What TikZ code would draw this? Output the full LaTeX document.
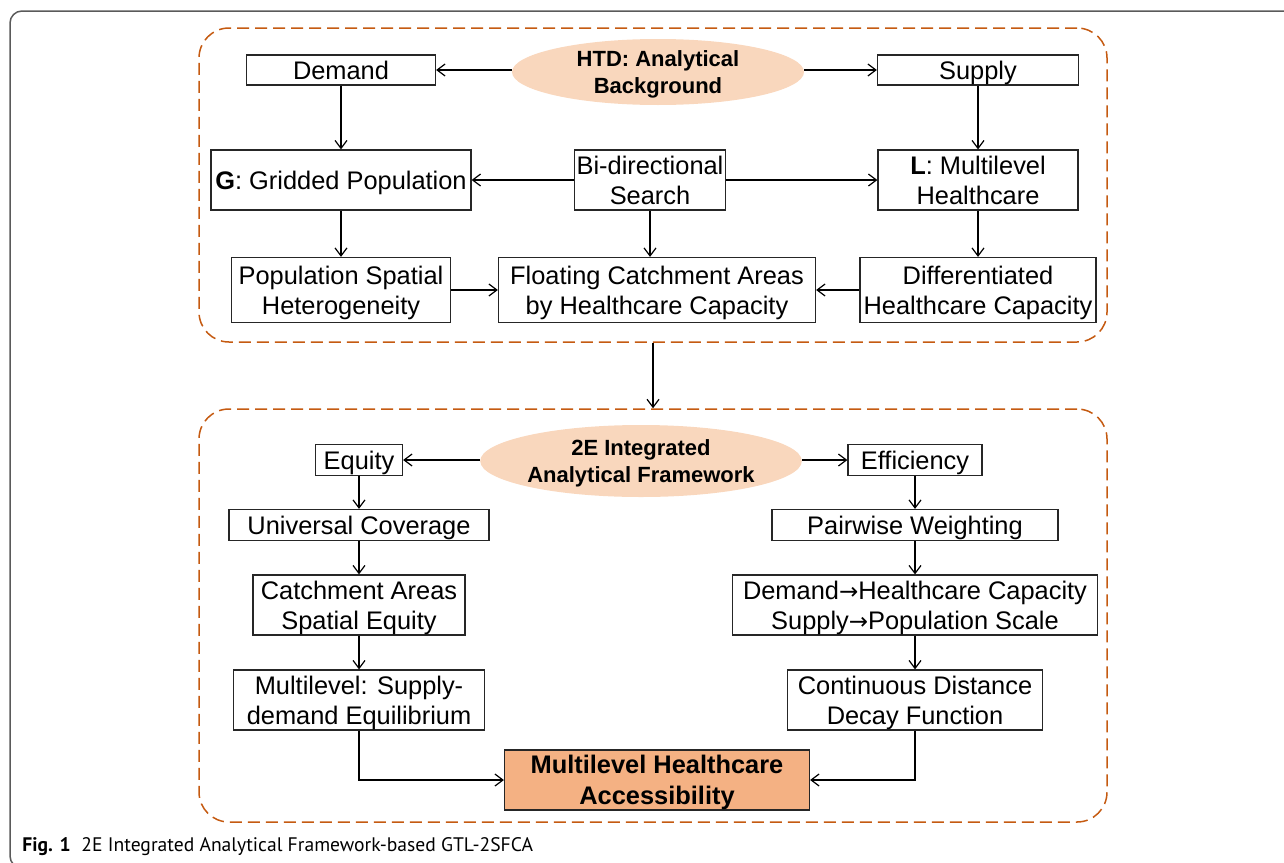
\documentclass[tikz,border=0pt]{standalone}
\usepackage{fontspec}
\setmainfont{Liberation Sans}
\newfontfamily\capfont{PT Sans}
\newfontfamily\symfont{DejaVu Sans}
\usepackage{tikz}
\usetikzlibrary{arrows.meta,shapes.geometric}
\definecolor{gtorange}{HTML}{C55A11}
\definecolor{gtpeach}{HTML}{F9D7BD}
\definecolor{gtsalmon}{HTML}{F4B183}
\definecolor{gtgray}{HTML}{5A5A5A}
\newcommand{\gtto}{{\symfont\fontsize{11.5}{15}\selectfont →}}
\tikzset{
  gtbox/.style={draw=black!85, line width=0.6pt, fill=white, align=center,
    inner sep=1pt, text depth=0pt, font=\fontsize{12.7}{15}\selectfont},
  gtoval/.style={ellipse, fill=gtpeach, align=center, inner xsep=0pt,
    inner ysep=-1pt, text depth=0pt, font=\bfseries\fontsize{11}{13.5}\selectfont},
  gtresult/.style={gtbox, fill=gtsalmon, font=\bfseries\fontsize{12.7}{15.5}\selectfont},
  gtgroup/.style={draw=gtorange, line width=0.75pt, dash pattern=on 6pt off 3pt,
    rounded corners=15pt},
  gtarrow/.style={-{Straight Barb[length=4pt,width=6pt]}, line width=0.6pt, draw=black}
}

\begin{document}
\begin{tikzpicture}[x=0.5pt, y=-0.5pt]
  \useasboundingbox (0,0) rectangle (1284,862);
  \clip (0,0) rectangle (1284,862);
  \draw[gtgray, line width=0.75pt, rounded corners=6pt] (10,11) rectangle (1330,868);
  \node[gtgroup, minimum width=454pt, minimum height=157pt] (htdgroup) at (653,185) {};
  \node[gtgroup, minimum width=454pt, minimum height=206.5pt] (eegroup) at (653,615.5) {};

  \node[gtoval, minimum width=146pt, minimum height=33pt] (htd) at (658,72) {HTD: Analytical\\Background};
  \node[gtbox, minimum width=94.5pt, minimum height=15pt] (demand) at (341,70) {Demand};
  \node[gtbox, minimum width=100.5pt, minimum height=15pt] (supply) at (978,70) {Supply};
  \node[gtbox, minimum width=130pt, minimum height=30pt] (grid) at (341,180) {\textbf{G}: Gridded Population};
  \node[gtbox, minimum width=75.5pt, minimum height=30pt] (bidir) at (650,180) {Bi-directional\\Search};
  \node[gtbox, minimum width=100pt, minimum height=30pt] (mlh) at (978,180) {\textbf{L}: Multilevel\\Healthcare};
  \node[gtbox, minimum width=109.5pt, minimum height=32.5pt] (psh) at (341,290) {Population Spatial\\Heterogeneity};
  \node[gtbox, minimum width=158.5pt, minimum height=32.5pt] (fca) at (657,290) {Floating Catchment Areas\\by Healthcare Capacity};
  \node[gtbox, minimum width=118pt, minimum height=32.5pt] (dhc) at (978,290) {Differentiated\\Healthcare Capacity};

  \draw[gtarrow] (demand.east -| htd.west) -- (demand.east);
  \draw[gtarrow] (supply.west -| htd.east) -- (supply.west);
  \draw[gtarrow] (demand.south) -- (grid.north);
  \draw[gtarrow] (supply.south) -- (mlh.north);
  \draw[gtarrow] (bidir.west) -- (grid.east);
  \draw[gtarrow] (bidir.east) -- (mlh.west);
  \draw[gtarrow] (grid.south) -- (psh.north);
  \draw[gtarrow] (bidir.south) -- (bidir.south |- fca.north);
  \draw[gtarrow] (mlh.south) -- (dhc.north);
  \draw[gtarrow] (psh.east) -- (fca.west);
  \draw[gtarrow] (dhc.west) -- (fca.east);
  \draw[gtarrow] (htdgroup.south) -- (eegroup.north);

  \node[gtoval, minimum width=136.5pt, minimum height=36pt] (twoe) at (641,461) {2E Integrated\\Analytical Framework};
  \node[gtbox, minimum width=43.5pt, minimum height=15.5pt] (equity) at (359,460) {Equity};
  \node[gtbox, minimum width=67pt, minimum height=15.5pt] (effic) at (915,460) {Efficiency};
  \node[gtbox, minimum width=130pt, minimum height=15.5pt] (ucov) at (359,525) {Universal Coverage};
  \node[gtbox, minimum width=143pt, minimum height=15.5pt] (pairw) at (915,525) {Pairwise Weighting};
  \node[gtbox, minimum width=106pt, minimum height=30pt] (case) at (359,605) {Catchment Areas\\Spatial Equity};
  \node[gtbox, minimum width=182.5pt, minimum height=30pt] (dsmatch) at (915,605) {Demand\gtto Healthcare Capacity\\Supply\gtto Population Scale};
  \node[gtbox, minimum width=125.5pt, minimum height=30pt] (mseq) at (359,700) {Multilevel: Supply-\\demand Equilibrium};
  \node[gtbox, minimum width=127.5pt, minimum height=30pt] (cddf) at (915,700) {Continuous Distance\\Decay Function};
  \node[gtresult, minimum width=152.5pt, minimum height=30pt] (mha) at (657,780) {Multilevel Healthcare\\Accessibility};

  \draw[gtarrow] (equity.east -| twoe.west) -- (equity.east);
  \draw[gtarrow] (effic.west -| twoe.east) -- (effic.west);
  \draw[gtarrow] (equity.south) -- (ucov.north);
  \draw[gtarrow] (ucov.south) -- (case.north);
  \draw[gtarrow] (case.south) -- (mseq.north);
  \draw[gtarrow] (effic.south) -- (pairw.north);
  \draw[gtarrow] (pairw.south) -- (dsmatch.north);
  \draw[gtarrow] (dsmatch.south) -- (cddf.north);
  \draw[gtarrow] (mseq.south) |- (mha.west);
  \draw[gtarrow] (cddf.south) |- (mha.east);

  \node[anchor=base west, inner sep=0pt, font=\capfont\fontsize{9.8}{12}\selectfont] (caption) at (22,851)
    {\textbf{Fig. 1}\hspace{0.55em}2E Integrated Analytical Framework-based GTL-2SFCA};
\end{tikzpicture}
\end{document}
